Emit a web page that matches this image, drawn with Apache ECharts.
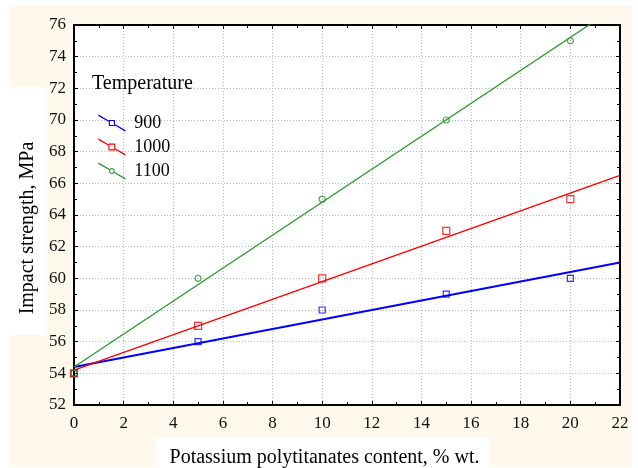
<!DOCTYPE html>
<html>
<head>
<meta charset="utf-8">
<script src="https://cdn.jsdelivr.net/npm/echarts@6/dist/echarts.min.js"></script>
<style>
  html, body { margin: 0; padding: 0; background: #fff; }
  #chart { width: 638px; height: 468px; }
</style>
</head>
<body>
<div id="chart"></div>
<script>
// data
var contentPct = [0, 5, 10, 15, 20];
var strength900 = [54, 56, 58, 59, 60];
var strength1000 = [54, 57, 60, 63, 65];
var strength1100 = [54, 60, 65, 70, 75];
// fitted lines (end values)
var fitX = [0, 22];
var fit900 = [54.4, 61.0];
var fit1000 = [54.2, 66.5];
var fit1100 = [54.4, 77.3];

var tempNames = ['900', '1000', '1100'];
var colors = ['#0000ff', '#ff0000', '#2a9a2a'];
var font = 'Liberation Serif';

function pairs(xs, ys) {
  return xs.map(function (x, i) { return [x, ys[i]]; });
}

// legend icon: slanted line with a hollow marker in the middle
function seg(x0, y0, x1, y1, w) {
  var L = Math.hypot(x1 - x0, y1 - y0);
  var nx = -(y1 - y0) / L * w, ny = (x1 - x0) / L * w;
  return 'M' + (x0 + nx) + ',' + (y0 + ny) + 'L' + (x1 + nx) + ',' + (y1 + ny) +
    'L' + (x1 - nx) + ',' + (y1 - ny) + 'L' + (x0 - nx) + ',' + (y0 - ny) + 'Z';
}
function legendIcon(kind, s) {
  var W = 29, H = 17, cx = W / 2, cy = H / 2;
  var L = Math.hypot(W, H), dx = W / L, dy = H / L;
  var p = '', k, th = 1.2;
  if (kind === 'circle') {
    var n = 16, i, a;
    k = s;
    p += 'M' + (cx + s) + ',' + cy;
    for (i = 1; i < n; i++) { a = i / n * Math.PI * 2; p += 'L' + (cx + s * Math.cos(a)) + ',' + (cy + s * Math.sin(a)); }
    p += 'Z';
    p += 'M' + (cx + s - th) + ',' + cy;
    for (i = 1; i < n; i++) { a = -i / n * Math.PI * 2; p += 'L' + (cx + (s - th) * Math.cos(a)) + ',' + (cy + (s - th) * Math.sin(a)); }
    p += 'Z';
  } else {
    k = s / dx;
    p += 'M' + (cx - s) + ',' + (cy - s) + 'L' + (cx + s) + ',' + (cy - s) + 'L' + (cx + s) + ',' + (cy + s) + 'L' + (cx - s) + ',' + (cy + s) + 'Z';
    p += 'M' + (cx - s + th) + ',' + (cy - s + th) + 'L' + (cx - s + th) + ',' + (cy + s - th) + 'L' + (cx + s - th) + ',' + (cy + s - th) + 'L' + (cx + s - th) + ',' + (cy - s + th) + 'Z';
  }
  p += seg(0, 0, cx - k * dx, cy - k * dy, 0.7);
  p += seg(cx + k * dx, cy + k * dy, W, H, 0.7);
  return 'path://' + p;
}
var icons = [legendIcon('rect', 3.3), legendIcon('rect', 3.7), legendIcon('circle', 3.1)];

var chart = echarts.init(document.getElementById('chart'));

function scatterSeries(name, ys, color, symbol, size) {
  return {
    name: name, type: 'scatter', z: 4,
    symbol: symbol, symbolSize: size,
    itemStyle: { color: 'rgba(255,255,255,0)', borderColor: color, borderWidth: 1.2 },
    data: pairs(contentPct, ys)
  };
}
function fitSeries(name, ys, color, width) {
  return {
    name: name, type: 'line', z: 3, showSymbol: false, symbol: 'none',
    lineStyle: { color: color, width: width },
    itemStyle: { color: color },
    data: pairs(fitX, ys)
  };
}

var tickStyle = { show: true, inside: true, length: 4, lineStyle: { color: '#000', width: 1 } };
var minorStyle = { show: true, splitNumber: 2, length: 3, lineStyle: { color: '#000', width: 1 } };
var lineBlack = { show: true, onZero: false, lineStyle: { color: '#000', width: 2 } };
var gridDots = { show: true, lineStyle: { color: '#b8b8b8', width: 1, type: [1, 2] } };

chart.setOption({
  backgroundColor: '#fff',
  animation: false,
  graphic: [
    { type: 'rect', z: -3, silent: true, shape: { x: 10, y: 5, width: 622, height: 462 }, style: { fill: '#fff8ec' } },
    { type: 'rect', z: -2, silent: true, shape: { x: 0, y: 87, width: 47, height: 248 }, style: { fill: '#fff' } },
    { type: 'rect', z: -2, silent: true, shape: { x: 156, y: 438, width: 334, height: 30 }, style: { fill: '#fff' } }
  ],
  title: {
    text: 'Temperature', left: 92, top: 74, padding: 0,
    textStyle: { fontFamily: font, fontSize: 20, fontWeight: 'normal', color: '#000' }
  },
  legend: {
    orient: 'vertical', left: 93, top: 109,
    itemWidth: 29, itemHeight: 17, itemGap: 6,
    selectedMode: false,
    itemStyle: { borderWidth: 0 },
    textStyle: { fontFamily: font, fontSize: 18, color: '#000', padding: [0, 0, 0, 3] },
    data: tempNames.map(function (n, i) {
      return { name: n, icon: icons[i], itemStyle: { color: colors[i] } };
    })
  },
  grid: {
    left: 74, right: 18, top: 25, bottom: 63,
    outerBoundsMode: 'none', containLabel: false,
    show: true, backgroundColor: '#fff', borderWidth: 0
  },
  xAxis: [
    {
      type: 'value', min: 0, max: 22, interval: 2, position: 'bottom',
      name: 'Potassium polytitanates content, % wt.',
      nameLocation: 'middle', nameGap: 43,
      nameTextStyle: { fontFamily: font, fontSize: 20, color: '#000', padding: [0, 45, 0, 0] },
      axisLine: lineBlack, axisTick: tickStyle, minorTick: minorStyle,
      axisLabel: { fontFamily: font, fontSize: 17, color: '#111', margin: 10 },
      splitLine: gridDots
    },
    {
      type: 'value', min: 0, max: 22, interval: 2, position: 'top',
      axisLine: lineBlack, axisTick: tickStyle, minorTick: minorStyle,
      axisLabel: { show: false }, splitLine: { show: false }
    }
  ],
  yAxis: [
    {
      type: 'value', min: 52, max: 76, interval: 2, position: 'left',
      name: 'Impact strength, MPa',
      nameLocation: 'middle', nameGap: 36, nameRotate: 90,
      nameTextStyle: { fontFamily: font, fontSize: 20, color: '#000', padding: [0, 26, 0, 0] },
      axisLine: lineBlack, axisTick: tickStyle, minorTick: minorStyle,
      axisLabel: { fontFamily: font, fontSize: 17, color: '#111', margin: 8 },
      splitLine: gridDots
    },
    {
      type: 'value', min: 52, max: 76, interval: 2, position: 'right',
      axisLine: lineBlack, axisTick: tickStyle, minorTick: minorStyle,
      axisLabel: { show: false }, splitLine: { show: false }
    }
  ],
  series: [
    fitSeries('900', fit900, colors[0], 2),
    fitSeries('1000', fit1000, colors[1], 1.5),
    fitSeries('1100', fit1100, colors[2], 1.3),
    scatterSeries('900', strength900, colors[0], 'rect', 6),
    scatterSeries('1000', strength1000, colors[1], 'rect', 7),
    scatterSeries('1100', strength1100, colors[2], 'circle', 6)
  ]
});
</script>
</body>
</html>
